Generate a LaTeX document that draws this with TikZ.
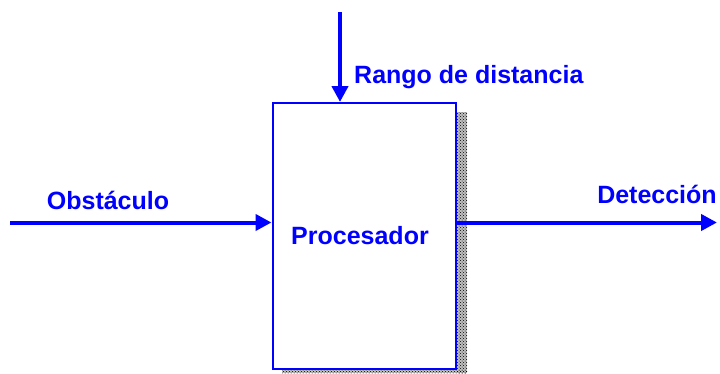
\documentclass[tikz,border=0pt]{standalone}
\usepackage{fontspec}
\setmainfont{Liberation Sans}
\usetikzlibrary{arrows.meta,patterns}
\definecolor{pblue}{RGB}{0,0,255}
\tikzset{
  flow/.style={draw=pblue,line width=4pt,-{Triangle[length=16pt,width=16pt]}},
  lbl/.style={text=pblue,font=\fontsize{25}{30}\selectfont\bfseries,inner sep=0pt},
  procbox/.style={draw=pblue,line width=2pt,fill=white,inner sep=0pt,minimum width=183pt,minimum height=266pt},
  shade/.style={pattern=crosshatch dots,pattern color=black,draw=none}
}
\begin{document}
\begin{tikzpicture}[x=1pt,y=-1pt]
\useasboundingbox (0,0) rectangle (720,373);
% shadow
\fill[black!25] (457,112) rectangle (467,373);
\fill[black!25] (282,370) rectangle (467,373);
\fill[shade] (457,112) rectangle (467,373);
\fill[shade] (282,370) rectangle (467,373);
\node[procbox] (p) at (364,236) {};
\node[lbl] (pl) at (360,236) {Procesador};
\coordinate (top) at (340,12);
\coordinate (in) at (10,222.5);
\coordinate (out) at (717,222.5);
\draw[flow] (top) -- (top |- p.north);
\draw[flow] (in) -- (p.west |- in);
\draw[flow] (p.east |- out) -- (out);
\node[lbl,anchor=west] (rl) at (354,77) {Rango de distancia};
\node[lbl] (ol) at (108,200) {Obstáculo};
\node[lbl] (dl) at (657,194) {Detección};
\end{tikzpicture}
\end{document}
